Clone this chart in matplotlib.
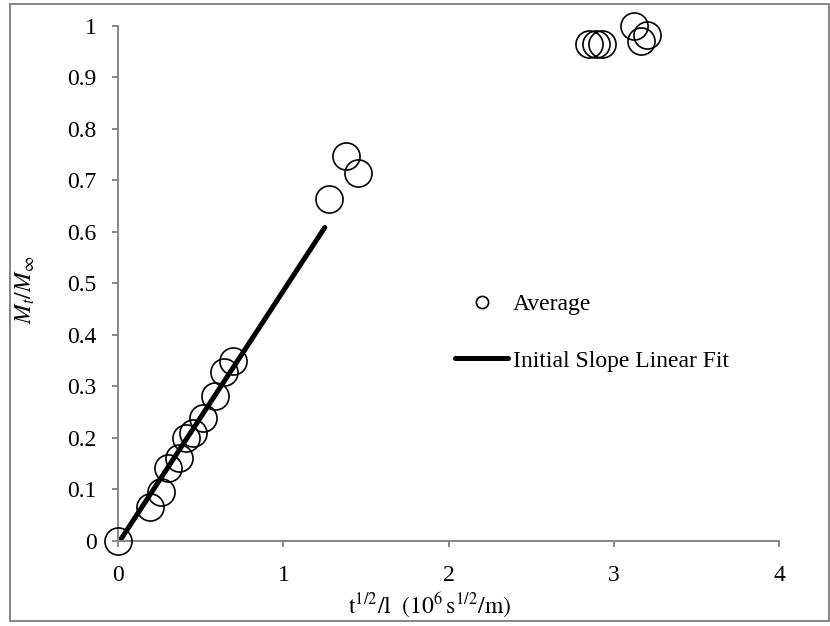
import matplotlib
matplotlib.use("Agg")
import matplotlib.pyplot as plt
import matplotlib.ticker as mticker
from matplotlib.patches import Rectangle

plt.rcParams["font.family"] = ["Liberation Serif", "DejaVu Serif"]
plt.rcParams["mathtext.fontset"] = "stix"

# ── Data ──────────────────────────────────────────────────────────────────────
avg_x = [0.0, 0.19, 0.26, 0.30, 0.37, 0.41, 0.45, 0.51, 0.585, 0.64, 0.695,
         1.276, 1.381, 1.451, 2.852, 2.892, 2.93, 3.124, 3.164, 3.198]
avg_y = [0.0, 0.066, 0.095, 0.142, 0.16, 0.199, 0.21, 0.239, 0.281, 0.328, 0.348,
         0.663, 0.746, 0.713, 0.964, 0.964, 0.964, 1.0, 0.969, 0.982]

fit_x = [0.01, 1.25]
fit_y = [0.0, 0.608]

x_ticks = [0, 1, 2, 3, 4]
y_ticks = [0, 0.1, 0.2, 0.3, 0.4, 0.5, 0.6, 0.7, 0.8, 0.9, 1]

# ── Figure ────────────────────────────────────────────────────────────────────
W, H = 830, 626
fig = plt.figure(figsize=(W / 100, H / 100), dpi=100)
ax = fig.add_axes([118.3 / W, 1 - 540.7 / H, (779 - 118.3) / W, (540.7 - 25.5) / H])

AX_C = "#868686"
FS = 17

ax.plot(fit_x, fit_y, color="black", linewidth=3.6, solid_capstyle="round",
        label="Initial Slope Linear Fit", zorder=2)
ax.plot(avg_x, avg_y, linestyle="none", marker="o", markersize=19.5,
        markerfacecolor="none", markeredgecolor="black", markeredgewidth=1.2,
        label="Average", zorder=3, clip_on=False)

ax.set_xlim(0, 4)
ax.set_ylim(0, 1)
ax.set_xticks(x_ticks)
ax.set_yticks(y_ticks)
ax.xaxis.set_major_formatter(mticker.FuncFormatter(lambda v, p: f"{v:g}"))
ax.yaxis.set_major_formatter(mticker.FuncFormatter(lambda v, p: f"{v:g}"))

ax.spines[["top", "right"]].set_visible(False)
for s in ("left", "bottom"):
    ax.spines[s].set_color(AX_C)
    ax.spines[s].set_linewidth(1.4)
ax.tick_params(axis="both", direction="out", length=4.5, width=1.4, color=AX_C,
               labelsize=FS, labelcolor="black")
ax.tick_params(axis="y", pad=11)
ax.tick_params(axis="x", pad=13)

# Axis labels
fig.text(25 / W, 1 - 290 / H, r"$M_t/M_\infty$", rotation=90, ha="center", va="center",
         fontsize=FS)
fig.text(430 / W, 1 - 605 / H, r"$\mathrm{t^{1/2}/l\ \ (10^6\,s^{1/2}/m)}$",
         ha="center", va="center", fontsize=FS)

# Legend
handles, labels = ax.get_legend_handles_labels()
ax.legend(handles[::-1], labels[::-1], loc="center left",
          bbox_to_anchor=(455 / W, 1 - 332.5 / H), bbox_transform=fig.transFigure,
          frameon=False, fontsize=FS, markerscale=0.45, handlelength=2.25,
          handletextpad=0.2, labelspacing=1.5, borderpad=0, borderaxespad=0)

# Chart-area border
fig.patches.append(Rectangle((10 / W, 1 - 621 / H), (829 - 10) / W, (621 - 4) / H,
                             transform=fig.transFigure, fill=False,
                             edgecolor=AX_C, linewidth=1.4))

fig.savefig("out.png", dpi=100, facecolor="white")
